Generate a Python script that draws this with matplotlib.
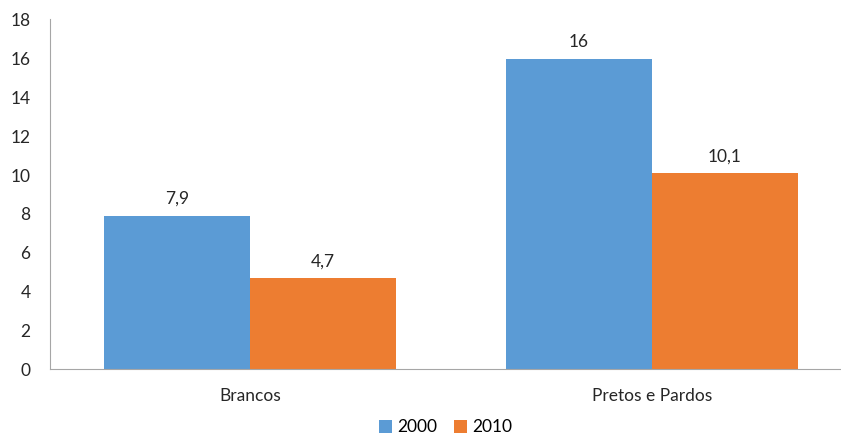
import matplotlib
matplotlib.use("Agg")
import matplotlib.pyplot as plt
import numpy as np

categorias = ["Brancos", "Pretos e Pardos"]
anos = ["2000", "2010"]
valores_2000 = [7.9, 16]
valores_2010 = [4.7, 10.1]
rotulos_2000 = ["7,9", "16"]
rotulos_2010 = ["4,7", "10,1"]

plt.rcParams['font.family'] = ['Lato', 'DejaVu Sans']
cor_txt = '#262626'
fs = 12.5

fig = plt.figure(figsize=(8.41, 4.41), dpi=100)
ax = fig.add_axes([50 / 841, 1 - 369 / 441, 1 - 50 / 841, (369 - 20) / 441])

x = np.arange(len(categorias))
w = 0.363
b1 = ax.bar(x - w / 2, valores_2000, w, color='#5B9BD5', label=anos[0])
b2 = ax.bar(x + w / 2, valores_2010, w, color='#ED7D31', label=anos[1])

for barra, txt in zip(b1, rotulos_2000):
    ax.text(barra.get_x() + barra.get_width() / 2, barra.get_height() + 0.45, txt,
            ha='center', va='bottom', fontsize=fs, color=cor_txt)
for barra, txt in zip(b2, rotulos_2010):
    ax.text(barra.get_x() + barra.get_width() / 2, barra.get_height() + 0.45, txt,
            ha='center', va='bottom', fontsize=fs, color=cor_txt)

ax.set_xlim(-0.4975, 1.47)
ax.set_ylim(0, 18)
ax.set_yticks(range(0, 19, 2))
ax.set_xticks(x)
ax.set_xticklabels(categorias, fontsize=fs, color=cor_txt)
ax.tick_params(axis='y', labelsize=fs, labelcolor=cor_txt, length=0, pad=14)
ax.tick_params(axis='x', length=0, pad=14)

for s in ['top', 'right']:
    ax.spines[s].set_visible(False)
ax.spines['left'].set_color('#A6A6A6')
ax.spines['bottom'].set_color('#A6A6A6')
ax.spines['left'].set_bounds(0, 18.05)

ax.legend(loc='lower center', bbox_to_anchor=(0.5, -0.20), ncol=2, frameon=False,
          fontsize=fs, handlelength=0.75, handleheight=0.75, handletextpad=0.3,
          columnspacing=1.0, borderaxespad=0, borderpad=0.2)

fig.savefig("out.png", dpi=100)
